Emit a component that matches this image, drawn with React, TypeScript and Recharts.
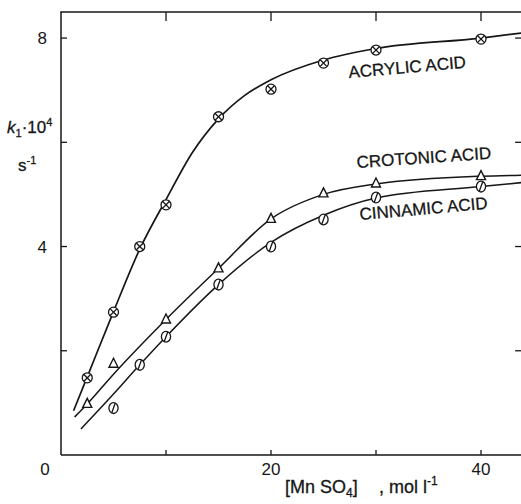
import { ComposedChart, Line, Scatter, XAxis, YAxis, ReferenceLine } from "recharts";

// measured points, [MnSO4] vs k1.10^4
const acrylicX = [2.5, 5, 7.5, 10, 15, 20, 25, 30, 40];
const acrylicK = [1.48, 2.74, 4.0, 4.8, 6.49, 7.02, 7.52, 7.77, 7.98];
const crotonicX = [2.5, 5, 10, 15, 20, 25, 30, 40];
const crotonicK = [0.98, 1.75, 2.6, 3.58, 4.53, 5.02, 5.21, 5.35];
const cinnamicX = [5, 7.5, 10, 15, 20, 25, 30, 40];
const cinnamicK = [0.9, 1.73, 2.27, 3.27, 4.0, 4.52, 4.94, 5.15];

// drawn curves
const acrylicFitX = [1.2, 2.5, 5, 7.5, 10, 12.5, 15, 17.5, 20, 25, 30, 40, 44];
const acrylicFitK = [0.85, 1.5, 2.75, 3.95, 4.9, 5.8, 6.45, 6.9, 7.2, 7.58, 7.8, 8.0, 8.1];
const crotonicFitX = [1.3, 2.5, 5, 10, 15, 20, 25, 30, 40, 44];
const crotonicFitK = [0.73, 0.98, 1.55, 2.6, 3.58, 4.53, 5.0, 5.2, 5.35, 5.37];
const cinnamicFitX = [1.9, 5, 7.5, 10, 15, 20, 25, 30, 40, 44];
const cinnamicFitK = [0.5, 1.17, 1.73, 2.27, 3.27, 4.08, 4.6, 4.93, 5.15, 5.23];

const xTicks = [0, 10, 20, 30, 40];
const xLabels: Record<number, string> = { 0: "0", 20: "20", 40: "40" };
const yTicks = [2, 4, 6, 8];
const yLabels: Record<number, string> = { 4: "4", 8: "8" };
const X_MAX = 44;
const Y_MAX = 8.5;

// plot box (layout only)
const PLOT_LEFT = 61;
const PLOT_TOP = 12;
const PLOT_W = 462;

const INK = "#161616";
const FONT = "'Liberation Sans', Arial, sans-serif";

const zip = (xs: number[], ks: number[]) => xs.map((x, i) => ({ x, k: ks[i] }));

const CrossCircle = ({ cx, cy }: any) => (
  <g stroke={INK} strokeWidth={1.3} fill="white">
    <circle cx={cx} cy={cy} r={5} />
    <line x1={cx - 3.3} y1={cy - 3.3} x2={cx + 3.3} y2={cy + 3.3} />
    <line x1={cx - 3.3} y1={cy + 3.3} x2={cx + 3.3} y2={cy - 3.3} />
  </g>
);

const Triangle = ({ cx, cy }: any) => (
  <polygon
    points={`${cx},${cy - 5.5} ${cx - 4.5},${cy + 3.5} ${cx + 4.5},${cy + 3.5}`}
    stroke={INK}
    strokeWidth={1.4}
    fill="white"
  />
);

const SlashCircle = ({ cx, cy }: any) => (
  <g stroke={INK} strokeWidth={1.3} fill="white">
    <ellipse cx={cx} cy={cy} rx={4.6} ry={5.4} />
    <line x1={cx - 1.8} y1={cy + 5} x2={cx + 1.8} y2={cy - 5} />
  </g>
);

const BottomTick = ({ x, y, payload }: any) => {
  const v = payload.value;
  return (
    <g>
      {v > 0 && <line x1={x} x2={x} y1={y} y2={y - 5} stroke={INK} strokeWidth={1.3} />}
      {xLabels[v] && (
        <text x={v === 0 ? x - 16 : x} y={y + 20} textAnchor="middle" fontSize={17} fontFamily={FONT} fill={INK}>
          {xLabels[v]}
        </text>
      )}
    </g>
  );
};

const LeftTick = ({ x, y, payload }: any) => (
  <g>
    <line x1={x} x2={x + 6} y1={y} y2={y} stroke={INK} strokeWidth={1.3} />
    {yLabels[payload.value] && (
      <text x={x - 14} y={y + 6} textAnchor="end" fontSize={17} fontFamily={FONT} fill={INK}>
        {yLabels[payload.value]}
      </text>
    )}
  </g>
);

export default function App() {
  const topTickX = xTicks.filter((t) => t > 0).map((t) => PLOT_LEFT + (t / X_MAX) * PLOT_W);
  return (
    <div style={{ position: "absolute", left: 0, top: 0, width: 521, height: 504, overflow: "hidden", background: "white" }}>
      <ComposedChart width={523} height={504} margin={{ top: PLOT_TOP, right: 0, bottom: 0, left: 0 }}>
        <XAxis
          type="number"
          dataKey="x"
          domain={[0, X_MAX]}
          ticks={xTicks}
          interval={0}
          height={49}
          tickSize={0}
          tickMargin={0}
          tick={<BottomTick />}
          axisLine={{ stroke: INK, strokeWidth: 1.5 }}
          allowDataOverflow
        />
        <YAxis
          type="number"
          dataKey="k"
          domain={[0, Y_MAX]}
          ticks={yTicks}
          interval={0}
          width={PLOT_LEFT}
          tickSize={0}
          tickMargin={0}
          tick={<LeftTick />}
          axisLine={{ stroke: INK, strokeWidth: 1.5 }}
          allowDataOverflow
        />
        {/* inward ticks on the right edge */}
        {yTicks.map((t) => (
          <ReferenceLine key={`r${t}`} segment={[{ x: X_MAX - 0.75, y: t }, { x: X_MAX, y: t }]} stroke={INK} strokeWidth={1.3} />
        ))}
        <Line data={zip(acrylicFitX, acrylicFitK)} dataKey="k" type="monotone" stroke={INK} strokeWidth={1.7} dot={false} isAnimationActive={false} />
        <Line data={zip(crotonicFitX, crotonicFitK)} dataKey="k" type="monotone" stroke={INK} strokeWidth={1.5} dot={false} isAnimationActive={false} />
        <Line data={zip(cinnamicFitX, cinnamicFitK)} dataKey="k" type="monotone" stroke={INK} strokeWidth={1.5} dot={false} isAnimationActive={false} />
        <Scatter data={zip(acrylicX, acrylicK)} dataKey="k" shape={<CrossCircle />} isAnimationActive={false} />
        <Scatter data={zip(crotonicX, crotonicK)} dataKey="k" shape={<Triangle />} isAnimationActive={false} />
        <Scatter data={zip(cinnamicX, cinnamicK)} dataKey="k" shape={<SlashCircle />} isAnimationActive={false} />
      </ComposedChart>
      <svg width={521} height={504} style={{ position: "absolute", left: 0, top: 0, pointerEvents: "none" }} fontFamily={FONT} fill={INK}>
        {/* top edge of the frame with its inward ticks */}
        <line x1={PLOT_LEFT - 0.75} x2={PLOT_LEFT + PLOT_W} y1={PLOT_TOP} y2={PLOT_TOP} stroke={INK} strokeWidth={1.5} />
        {topTickX.map((x) => (
          <line key={x} x1={x} x2={x} y1={PLOT_TOP} y2={PLOT_TOP + 9} stroke={INK} strokeWidth={1.3} />
        ))}
        <g stroke={INK} strokeWidth={0.3}>
          <text x={7} y={133} fontSize={17}>
            <tspan fontStyle="italic">k</tspan>
            <tspan fontSize={11} dy={4}>1</tspan>
            <tspan dy={-4}>·10</tspan>
            <tspan fontSize={11} dy={-7}>4</tspan>
          </text>
          <text x={18} y={171} fontSize={17}>
            s<tspan fontSize={11} dy={-7}>-1</tspan>
          </text>
          <text x={285} y={493} fontSize={18}>
            [Mn SO<tspan fontSize={12} dy={4}>4</tspan>
            <tspan dy={-4}>]</tspan>
          </text>
          <text x={379} y={493} fontSize={18}>
            , mol l<tspan fontSize={12} dy={-8}>-1</tspan>
          </text>
          <text x={349} y={78} fontSize={17} transform="rotate(-5 349 78)">ACRYLIC ACID</text>
          <text x={357} y={168} fontSize={17} transform="rotate(-4 357 168)">CROTONIC ACID</text>
          <text x={360} y={220} fontSize={17} transform="rotate(-5 360 220)">CINNAMIC ACID</text>
        </g>
      </svg>
    </div>
  );
}
